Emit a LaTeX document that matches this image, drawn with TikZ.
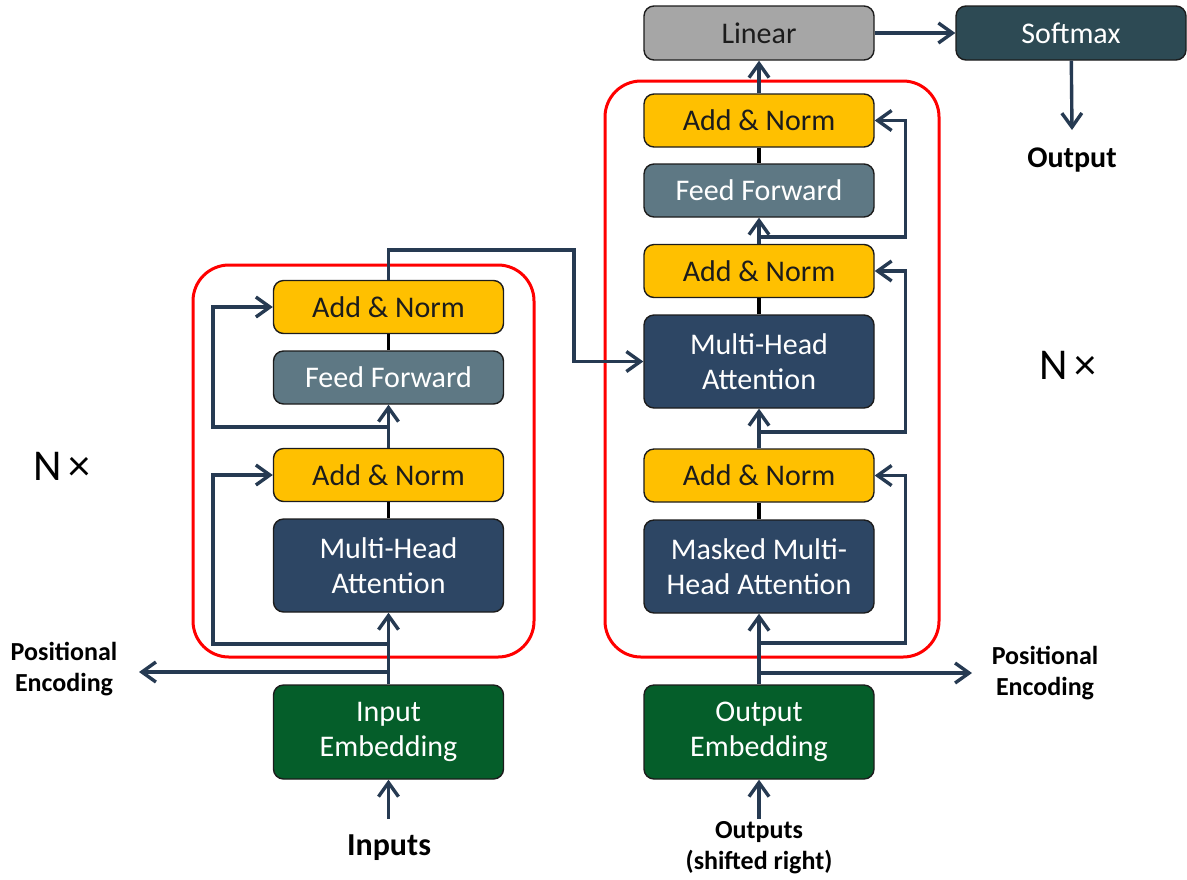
\documentclass[tikz,border=0pt]{standalone}
\usepackage{fontspec}
\setmainfont{Carlito}
\usepackage{tikz}
\usetikzlibrary{positioning,arrows.meta,calc}
\definecolor{ink}      {HTML}{1C1C1C}
\definecolor{navy}     {HTML}{263A52}
\definecolor{gold}     {HTML}{FFC000}
\definecolor{deepblue} {HTML}{2D4664}
\definecolor{slate}    {HTML}{5E7884}
\definecolor{leaf}     {HTML}{055E2A}
\definecolor{stone}    {HTML}{A6A6A6}
\definecolor{softteal} {HTML}{2D4A54}
\tikzset{
  >={Straight Barb[length=7pt,width=10pt]},
  every node/.style={font=\fontsize{15}{17.5}\selectfont},
  % --- nodes
  mod/.style     = {rounded corners=5pt, draw=ink, line width=0.7pt, align=center,
                    inner sep=0pt, minimum width=115pt, minimum height=26.5pt},
  addn/.style    = {mod, fill=gold, text=ink},
  attnbox/.style = {mod, fill=deepblue, text=white, minimum height=46.5pt},
  ffw/.style     = {mod, fill=slate, text=white},
  emb/.style     = {mod, fill=leaf, text=white, minimum height=47pt},
  linbox/.style  = {mod, fill=stone, text=ink, minimum height=27pt},
  smax/.style    = {mod, fill=softteal, text=white, minimum height=27pt},
  lbl/.style     = {font=\fontsize{13}{15.5}\selectfont\bfseries, align=center, text=black},
  nx/.style      = {font=\fontsize{22}{26}\selectfont, text=black},
  % --- edges
  e/.style       = {->, line width=1.7pt, draw=navy},
  eb/.style      = {line width=1.7pt, draw=black},
  fr/.style      = {draw=red, line width=1.5pt, rounded corners=18pt},
}
\begin{document}
\begin{tikzpicture}[x=0.5pt,y=-0.5pt]
  \useasboundingbox (0,0) rectangle (1187,879);
  % stacks
  \draw[fr] (193,265) rectangle (534,657);
  \draw[fr] (605,81) rectangle (939,657);

  % encoder
  \node[emb]     (ein)  at (388.5,732)   {Input\\Embedding};
  \node[attnbox] (emha) at (388.5,565.5) {Multi-Head\\Attention};
  \node[addn]    (ean1) at (388.5,475)   {Add \& Norm};
  \node[ffw]     (eff)  at (388.5,377.5) {Feed Forward};
  \node[addn]    (ean2) at (388.5,307)   {Add \& Norm};
  \node[lbl] (epos)   at (64,669)  {Positional\\Encoding};
  \node[lbl, font=\fontsize{16}{19}\selectfont\bfseries] (inputs) at (389,848) {Inputs};
  \node[nx]  (enx)    at (62,466)  {N\,×};
  \coordinate (inp)    at (388.5,819);
  \coordinate (epe)    at (388.5,672);
  \coordinate (epetip) at (139,672);
  \coordinate (eb1)    at (388.5,644);
  \coordinate (eb2)    at (388.5,427);
  \coordinate (cross)  at (574,250);

  % decoder
  \node[emb]     (dout)  at (759,732)   {Output\\Embedding};
  \node[attnbox] (dmmha) at (759,566.5) {Masked Multi-\\Head Attention};
  \node[addn]    (dan1)  at (759,475.5) {Add \& Norm};
  \node[attnbox] (dmha)  at (759,361.5) {Multi-Head\\Attention};
  \node[addn]    (dan2)  at (759,271)   {Add \& Norm};
  \node[ffw]     (dff)   at (759,190.5) {Feed Forward};
  \node[addn]    (dan3)  at (759,120.5) {Add \& Norm};
  \node[linbox]  (linear) at (759,33)   {Linear};
  \node[smax]    (soft)  at (1071,33)   {Softmax};
  \node[lbl] (dpos)    at (1045,673) {Positional\\Encoding};
  \node[lbl] (outputs) at (759,847.5) {Outputs\\(shifted right)};
  \node[lbl, font=\fontsize{15}{18}\selectfont\bfseries] (final) at (1072,160) {Output};
  \node[nx]  (dnx)     at (1068,365) {N\,×};
  \coordinate (outp)   at (759,819);
  \coordinate (dpe)    at (759,673);
  \coordinate (dpetip) at (972,673);
  \coordinate (db1)    at (759,643);
  \coordinate (db2)    at (759,432);
  \coordinate (db3)    at (759,237);
  \coordinate (outtip) at (1072,130);

  % encoder flow
  \draw[e] (inp) -- (ein);
  \draw[e] (ein) -- (emha);
  \draw[e] (epe) -- (epetip);
  \draw[e] (eb1) -| ([xshift=-30pt]ean1.west) -- (ean1);
  \draw[eb] (emha) -- (ean1);
  \draw[e] (ean1) -- (eff);
  \draw[e] (eb2) -| ([xshift=-30pt]ean2.west) -- (ean2);
  \draw[eb] (eff) -- (ean2);
  \draw[e] (ean2) |- (cross) |- (dmha);

  % decoder flow
  \draw[e] (outp) -- (dout);
  \draw[e] (dout) -- (dmmha);
  \draw[e] (dpe) -- (dpetip);
  \draw[e] (db1) -| ([xshift=15.5pt]dan1.east) -- (dan1);
  \draw[eb] (dmmha) -- (dan1);
  \draw[e] (dan1) -- (dmha);
  \draw[e] (db2) -| ([xshift=15.5pt]dan2.east) -- (dan2);
  \draw[eb] (dmha) -- (dan2);
  \draw[e] (dan2) -- (dff);
  \draw[e] (db3) -| ([xshift=15.5pt]dan3.east) -- (dan3);
  \draw[eb] (dff) -- (dan3);
  \draw[e] (dan3) -- (linear);
  \draw[e] (linear) -- (soft);
  \draw[e] (soft) -- (outtip);
\end{tikzpicture}
\end{document}
